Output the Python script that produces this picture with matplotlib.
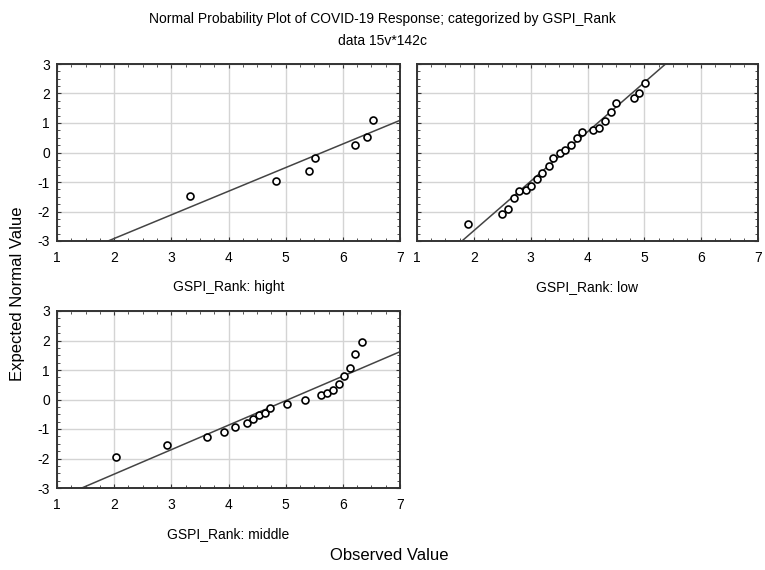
import numpy as np
import matplotlib
matplotlib.use("Agg")
import matplotlib.pyplot as plt
from matplotlib.ticker import MultipleLocator

plt.rcParams["font.family"] = ["Liberation Sans", "DejaVu Sans"]
plt.rcParams["axes.unicode_minus"] = False

# observed (x) vs expected normal value (y)
hight_obs = [3.33, 4.83, 5.41, 5.52, 6.22, 6.43, 6.53]
hight_exp = [-1.47, -0.97, -0.62, -0.19, 0.24, 0.54, 1.10]

low_obs = [1.90, 2.50, 2.60, 2.71, 2.80, 2.91, 3.00, 3.11, 3.20, 3.32, 3.40, 3.51,
           3.60, 3.71, 3.81, 3.91, 4.10, 4.21, 4.31, 4.41, 4.51, 4.82, 4.91, 5.02]
low_exp = [-2.42, -2.08, -1.91, -1.53, -1.31, -1.26, -1.13, -0.91, -0.71, -0.45, -0.19, -0.01,
           0.07, 0.24, 0.50, 0.69, 0.75, 0.84, 1.07, 1.36, 1.67, 1.84, 2.02, 2.35]

middle_obs = [2.03, 2.92, 3.62, 3.93, 4.12, 4.32, 4.43, 4.53, 4.63, 4.72,
              5.03, 5.33, 5.62, 5.72, 5.82, 5.93, 6.02, 6.13, 6.21, 6.34]
middle_exp = [-1.96, -1.53, -1.27, -1.10, -0.92, -0.80, -0.66, -0.54, -0.45, -0.28,
              -0.16, -0.02, 0.15, 0.21, 0.33, 0.54, 0.79, 1.08, 1.53, 1.96]

# reference lines (slope, intercept) as drawn in the reference
fit_hight = (0.801, -4.517)
fit_low = (1.675, -6.00)
fit_middle = (0.83, -4.19)

panels = [
    ("GSPI_Rank: hight", hight_obs, hight_exp, fit_hight),
    ("GSPI_Rank: low", low_obs, low_exp, fit_low),
    ("GSPI_Rank: middle", middle_obs, middle_exp, fit_middle),
]

W, H = 765, 570
fig = plt.figure(figsize=(W / 100, H / 100), dpi=100)

# axes boxes in pixels: left, top, right, bottom
boxes = [(57, 64, 400, 241), (417, 64, 758, 241), (57, 311, 400, 488)]

for i, ((label, xs, ys, (m, b)), (l, t, r, btm)) in enumerate(zip(panels, boxes)):
    ax = fig.add_axes([l / W, 1 - btm / H, (r - l) / W, (btm - t) / H])
    ax.set_xlim(1, 7)
    ax.set_ylim(-3, 3)
    ax.xaxis.set_major_locator(MultipleLocator(1))
    ax.yaxis.set_major_locator(MultipleLocator(1))
    ax.xaxis.set_minor_locator(MultipleLocator(0.25))
    ax.yaxis.set_minor_locator(MultipleLocator(0.25))
    ax.grid(True, which="major", color="#d4d4d4", linewidth=1.0)
    ax.set_axisbelow(True)
    ax.tick_params(which="both", direction="in", top=True, right=True,
                   labeltop=False, labelright=False, color="#333333")
    ax.tick_params(which="major", length=3, width=0.8, labelsize=10)
    ax.tick_params(axis="x", which="major", pad=7)
    ax.tick_params(axis="y", which="major", pad=5)
    ax.tick_params(which="minor", length=2, width=0.6)
    if i == 1:
        ax.tick_params(axis="y", labelleft=False)
    for s in ax.spines.values():
        s.set_linewidth(1.4)
        s.set_color("#333333")
    lx = np.array([1.0, 7.0])
    ax.plot(lx, m * lx + b, color="#444444", linewidth=1.1, zorder=2)
    ax.plot(xs, ys, "o", markerfacecolor="white", markeredgecolor="black",
            markersize=5, markeredgewidth=1.2, linestyle="none", zorder=3)
    ax.text(0.5, -0.26, label, transform=ax.transAxes, ha="center", va="center",
            fontsize=10)

fig.text(0.5, 1 - 19 / H, "Normal Probability Plot of COVID-19 Response; categorized by GSPI_Rank",
         ha="center", va="center", fontsize=10)
fig.text(0.5, 1 - 41 / H, "data 15v*142c", ha="center", va="center", fontsize=10)
fig.text(18 / W, 1 - 294 / H, "Expected Normal Value", rotation=90, ha="center",
         va="center", fontsize=12)
fig.text(389 / W, 1 - 556 / H, "Observed Value", ha="center", va="center", fontsize=12)

fig.savefig("out.png", dpi=100)
